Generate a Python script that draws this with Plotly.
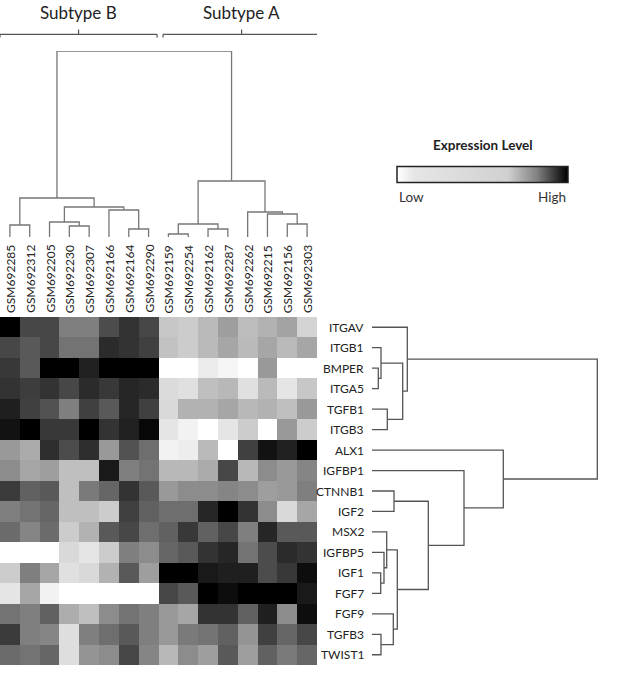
import numpy as np
import plotly.graph_objects as go

samples = ["GSM692285", "GSM692312", "GSM692205", "GSM692230", "GSM692307", "GSM692166",
           "GSM692164", "GSM692290", "GSM692159", "GSM692254", "GSM692162", "GSM692287",
           "GSM692262", "GSM692215", "GSM692156", "GSM692303"]
genes = ["ITGAV", "ITGB1", "BMPER", "ITGA5", "TGFB1", "ITGB3", "ALX1", "IGFBP1", "CTNNB1",
         "IGF2", "MSX2", "IGFBP5", "IGF1", "FGF7", "FGF9", "TGFB3", "TWIST1"]

# darkness of each cell (0 = white, 1 = black)
darkness = [
    [1.00, 0.72, 0.72, 0.50, 0.50, 0.70, 0.80, 0.72, 0.22, 0.20, 0.27, 0.38, 0.26, 0.30, 0.36, 0.17],
    [0.72, 0.65, 0.72, 0.55, 0.55, 0.83, 0.80, 0.75, 0.24, 0.20, 0.27, 0.35, 0.27, 0.35, 0.27, 0.35],
    [0.78, 0.65, 1.00, 1.00, 0.87, 1.00, 1.00, 1.00, 0.00, 0.00, 0.08, 0.04, 0.00, 0.40, 0.00, 0.00],
    [0.80, 0.76, 0.80, 0.72, 0.83, 0.78, 0.85, 0.83, 0.14, 0.12, 0.25, 0.28, 0.12, 0.27, 0.10, 0.22],
    [0.88, 0.75, 0.68, 0.50, 0.75, 0.65, 0.85, 0.75, 0.15, 0.30, 0.30, 0.35, 0.28, 0.30, 0.25, 0.40],
    [0.93, 1.00, 0.78, 0.78, 1.00, 0.80, 0.87, 0.97, 0.10, 0.05, 0.00, 0.10, 0.20, 0.00, 0.40, 0.20],
    [0.40, 0.33, 0.82, 0.70, 0.82, 0.40, 0.68, 0.57, 0.05, 0.07, 0.27, 0.00, 0.75, 0.93, 0.87, 1.00],
    [0.45, 0.35, 0.38, 0.25, 0.25, 0.90, 0.50, 0.55, 0.28, 0.28, 0.33, 0.72, 0.28, 0.45, 0.40, 0.48],
    [0.77, 0.62, 0.65, 0.25, 0.52, 0.60, 0.80, 0.65, 0.40, 0.45, 0.45, 0.48, 0.45, 0.38, 0.40, 0.50],
    [0.50, 0.55, 0.60, 0.25, 0.25, 0.20, 0.75, 0.62, 0.57, 0.57, 0.85, 1.00, 0.80, 0.45, 0.15, 0.35],
    [0.58, 0.48, 0.58, 0.20, 0.30, 0.65, 0.72, 0.57, 0.62, 0.78, 0.62, 0.72, 0.50, 0.85, 0.65, 0.65],
    [0.00, 0.00, 0.00, 0.15, 0.10, 0.20, 0.50, 0.45, 0.60, 0.65, 0.80, 0.85, 0.55, 0.70, 0.83, 0.80],
    [0.20, 0.50, 0.35, 0.12, 0.15, 0.30, 0.65, 0.38, 1.00, 1.00, 0.90, 0.88, 0.88, 0.70, 0.78, 0.95],
    [0.10, 0.35, 0.05, 0.00, 0.00, 0.00, 0.00, 0.00, 0.72, 0.65, 1.00, 0.95, 1.00, 1.00, 1.00, 0.90],
    [0.55, 0.50, 0.62, 0.32, 0.25, 0.45, 0.55, 0.50, 0.40, 0.35, 0.80, 0.80, 0.62, 0.88, 0.45, 0.95],
    [0.77, 0.50, 0.48, 0.13, 0.50, 0.57, 0.65, 0.50, 0.40, 0.52, 0.55, 0.62, 0.42, 0.75, 0.60, 0.72],
    [0.58, 0.55, 0.60, 0.13, 0.42, 0.45, 0.72, 0.48, 0.28, 0.45, 0.38, 0.65, 0.38, 0.62, 0.52, 0.60],
]

# linkage: (left, right, height); ids >= n refer to earlier merges
col_merges = [(0, 1, 12), (3, 4, 11), (2, 17, 15), (6, 7, 8), (5, 19, 27), (18, 20, 30),
              (16, 21, 39), (8, 9, 3), (10, 11, 8), (23, 24, 13), (14, 15, 13), (13, 26, 23),
              (12, 27, 25), (25, 28, 56), (22, 29, 186)]
row_merges = [(2, 3, 6.3), (1, 17, 9), (4, 5, 15.3), (18, 19, 30.7), (0, 20, 35.3), (8, 9, 22),
              (12, 13, 8.7), (11, 23, 12), (10, 24, 14.7), (15, 16, 9), (14, 26, 21.3),
              (25, 27, 25.3), (22, 28, 56.3), (7, 29, 92), (6, 30, 131.3), (21, 31, 225.3)]

groups = ["Subtype B", "Subtype A"]

# colour scale of the legend: pale grey most of the way, then dark
cscale = [[0, "#ffffff"], [0.1, "#e6e6e6"], [0.65, "#d0d0d0"], [0.82, "#808080"], [1, "#000000"]]
level = np.interp(np.array(darkness), [0, 0.098, 0.184, 0.498, 1], [0, 0.1, 0.65, 0.82, 1])


def dendro_lines(n, merges):
    pos = {i: float(i) for i in range(n)}
    hgt = {i: 0.0 for i in range(n)}
    a, b = [], []
    for k, (l, r, h) in enumerate(merges):
        a += [pos[l], pos[l], pos[r], pos[r], None]
        b += [hgt[l], h, h, hgt[r], None]
        pos[n + k] = (pos[l] + pos[r]) / 2
        hgt[n + k] = h
    return a, b


W, H = 626, 677
fig = go.Figure()
fig.add_trace(go.Heatmap(
    z=level, x=list(range(len(samples))), y=list(range(len(genes))),
    colorscale=cscale, zmin=0, zmax=1, hoverinfo="skip",
    colorbar=dict(orientation="h", x=397 / W, xanchor="left", y=1 - 184 / H, yanchor="bottom",
                  len=171, lenmode="pixels", thickness=16, thicknessmode="pixels",
                  outlinewidth=1.5, outlinecolor="#222", showticklabels=False, ticks="",
                  xpad=0, ypad=0)))

cx, cy = dendro_lines(len(samples), col_merges)
fig.add_trace(go.Scatter(x=cx, y=cy, mode="lines", xaxis="x", yaxis="y3",
                         line=dict(color="#777777", width=1.3), hoverinfo="skip"))
rx, ry = dendro_lines(len(genes), row_merges)
fig.add_trace(go.Scatter(x=ry, y=rx, mode="lines", xaxis="x2", yaxis="y",
                         line=dict(color="#555555", width=1.3), hoverinfo="skip"))

hidden = dict(visible=False, showgrid=False, zeroline=False)
fig.update_layout(
    width=W, height=H, margin=dict(l=0, r=0, t=0, b=0),
    paper_bgcolor="white", plot_bgcolor="white", showlegend=False,
    font=dict(family="Lato, Open Sans, sans-serif", color="#222"),
    xaxis=dict(domain=[0, 317 / W], range=[-0.5, 15.5], anchor="y", **hidden),
    yaxis=dict(domain=[1 - 665 / H, 1 - 317 / H], range=[16.5, -0.5], anchor="x", **hidden),
    xaxis2=dict(domain=[372 / W, 1], range=[0, 254], anchor="y", **hidden),
    yaxis3=dict(domain=[1 - 237 / H, 1 - 51 / H], range=[0, 186], anchor="x", **hidden),
)

ann = []
for i, s in enumerate(samples):
    ann.append(dict(x=i, xref="x", y=1 - 315 / H, yref="paper", text=s, textangle=-90,
                    showarrow=False, xanchor="center", yanchor="bottom",
                    font=dict(size=12, color="#222")))
for i, g in enumerate(genes):
    ann.append(dict(x=366 / W, xref="paper", y=i, yref="y", text=g, showarrow=False,
                    xanchor="right", yanchor="middle", font=dict(size=12, color="#222")))

# subtype brackets over the sample groups
spans = [(-0.5, 7.43), (7.73, 15.66)]
shapes = []
for (x0, x1), g in zip(spans, groups):
    xm = (x0 + x1) / 2
    yb = 1 - 34.3 / H
    for xs, ys in [((x0, x1), (yb, yb)), ((x0, x0), (yb, 1 - 37.5 / H)),
                   ((x1, x1), (yb, 1 - 37.5 / H)), ((xm, xm), (yb, 1 - 29.5 / H))]:
        shapes.append(dict(type="line", xref="x", yref="paper", x0=xs[0], x1=xs[1],
                           y0=ys[0], y1=ys[1], line=dict(color="#555", width=1.2)))
    ann.append(dict(x=xm, xref="x", y=1 - 12 / H, yref="paper", text=g, showarrow=False,
                    xanchor="center", yanchor="middle", borderpad=0,
                    font=dict(size=17, color="#222")))

ann.append(dict(x=483 / W, y=1 - 145 / H, xref="paper", yref="paper", text="<b>Expression Level</b>",
                xanchor="center", yanchor="middle", showarrow=False,
                font=dict(size=13.5, color="#222")))
ann.append(dict(x=397 / W, y=1 - 197 / H, xref="paper", yref="paper", text="Low",
                xanchor="left", yanchor="middle", showarrow=False,
                font=dict(size=13.5, color="#333")))
ann.append(dict(x=568 / W, y=1 - 197 / H, xref="paper", yref="paper", text="High",
                xanchor="right", yanchor="middle", showarrow=False,
                font=dict(size=13.5, color="#333")))

fig.update_layout(annotations=ann, shapes=shapes)
fig.write_html("out.html", config={"displayModeBar": False},
               post_script="document.body.style.margin='0';")
